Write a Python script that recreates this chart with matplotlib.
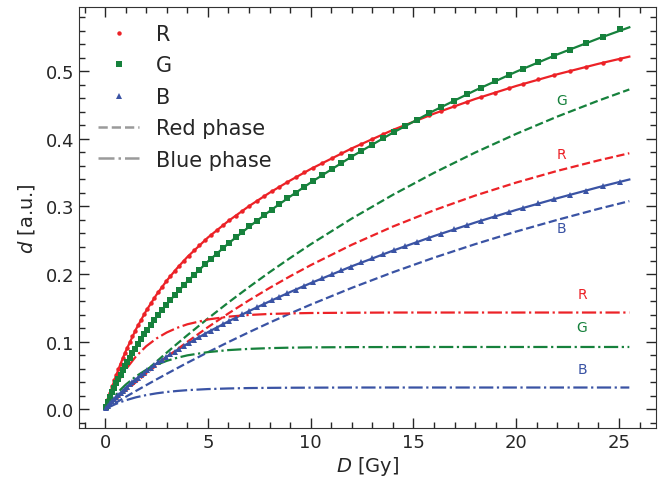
import numpy as np
import matplotlib
matplotlib.use("Agg")
import matplotlib.pyplot as plt
from matplotlib.ticker import MultipleLocator
from matplotlib.lines import Line2D

# measured points (dose in Gy, signal in a.u.)
dose = [0.05, 0.15, 0.25, 0.35, 0.45, 0.55, 0.65, 0.75, 0.86, 0.97, 1.08, 1.2, 1.33, 1.46, 1.6,
        1.75, 1.9, 2.06, 2.23, 2.4, 2.58, 2.77, 2.97, 3.17, 3.38, 3.6, 3.83, 4.07, 4.32, 4.58,
        4.85, 5.13, 5.42, 5.72, 6.03, 6.35, 6.68, 7.02, 7.37, 7.73, 8.1, 8.48, 8.87, 9.27, 9.69,
        10.12, 10.56, 11.02, 11.49, 11.97, 12.47, 12.98, 13.5, 14.04, 14.6, 15.17, 15.76, 16.36,
        16.98, 17.62, 18.28, 18.95, 19.64, 20.35, 21.08, 21.83, 22.6, 23.39, 24.2, 25.03]
r_meas = [0.0051, 0.0150, 0.0245, 0.0337, 0.0425, 0.0510, 0.0592, 0.0670, 0.0754, 0.0834, 0.0911,
          0.0992, 0.1076, 0.1156, 0.1239, 0.1324, 0.1405, 0.1487, 0.1570, 0.1650, 0.1730, 0.1810,
          0.1891, 0.1968, 0.2045, 0.2121, 0.2198, 0.2274, 0.2350, 0.2425, 0.2500, 0.2574, 0.2648,
          0.2721, 0.2794, 0.2866, 0.2938, 0.3009, 0.3080, 0.3151, 0.3222, 0.3292, 0.3362, 0.3432,
          0.3503, 0.3573, 0.3643, 0.3715, 0.3786, 0.3856, 0.3927, 0.3998, 0.4067, 0.4138, 0.4209,
          0.4278, 0.4347, 0.4416, 0.4484, 0.4552, 0.4619, 0.4685, 0.4751, 0.4816, 0.4880, 0.4944,
          0.5006, 0.5067, 0.5127, 0.5186]
g_meas = [0.0038, 0.0111, 0.0182, 0.0251, 0.0317, 0.0382, 0.0445, 0.0507, 0.0572, 0.0635, 0.0697,
          0.0762, 0.0830, 0.0897, 0.0965, 0.1037, 0.1106, 0.1177, 0.1250, 0.1320, 0.1392, 0.1466,
          0.1540, 0.1613, 0.1686, 0.1760, 0.1835, 0.1911, 0.1988, 0.2066, 0.2143, 0.2222, 0.2301,
          0.2381, 0.2461, 0.2541, 0.2623, 0.2705, 0.2786, 0.2868, 0.2952, 0.3036, 0.3120, 0.3204,
          0.3290, 0.3378, 0.3464, 0.3554, 0.3644, 0.3734, 0.3824, 0.3916, 0.4007, 0.4099, 0.4193,
          0.4286, 0.4380, 0.4474, 0.4568, 0.4663, 0.4758, 0.4852, 0.4947, 0.5041, 0.5136, 0.5230,
          0.5323, 0.5417, 0.5510, 0.5620]
b_meas = [0.0018, 0.0052, 0.0085, 0.0118, 0.0150, 0.0181, 0.0211, 0.0240, 0.0272, 0.0303, 0.0334,
          0.0366, 0.0400, 0.0433, 0.0468, 0.0505, 0.0540, 0.0577, 0.0615, 0.0653, 0.0691, 0.0731,
          0.0772, 0.0811, 0.0852, 0.0894, 0.0936, 0.0979, 0.1024, 0.1068, 0.1114, 0.1161, 0.1208,
          0.1256, 0.1305, 0.1354, 0.1403, 0.1454, 0.1505, 0.1557, 0.1609, 0.1662, 0.1715, 0.1769,
          0.1824, 0.1880, 0.1937, 0.1995, 0.2054, 0.2111, 0.2171, 0.2231, 0.2290, 0.2351, 0.2412,
          0.2474, 0.2537, 0.2599, 0.2662, 0.2725, 0.2789, 0.2852, 0.2916, 0.2981, 0.3044, 0.3108,
          0.3173, 0.3236, 0.3300, 0.3364]

# fitted curves: total, red phase, blue phase
dose_fit = [0, 0.25, 0.5, 0.75, 1, 1.5, 2, 2.5, 3, 3.5, 4, 5, 6, 7, 8, 9, 10, 12, 14, 16, 18,
            20, 22, 24, 25.5]
r_total = [0, 0.0245, 0.0468, 0.0670, 0.0855, 0.1181, 0.1457, 0.1694, 0.1903, 0.2086, 0.2252,
           0.2540, 0.2786, 0.3005, 0.3203, 0.3384, 0.3554, 0.3860, 0.4133, 0.4374, 0.4591,
           0.4784, 0.4957, 0.5112, 0.5218]
r_red = [0, 0.0069, 0.0137, 0.0204, 0.0270, 0.0400, 0.0526, 0.0648, 0.0768, 0.0883, 0.0996,
         0.1213, 0.1417, 0.1611, 0.1794, 0.1967, 0.2131, 0.2433, 0.2703, 0.2944, 0.3161,
         0.3354, 0.3527, 0.3682, 0.3788]
r_blue = [0, 0.0176, 0.0331, 0.0466, 0.0585, 0.0781, 0.0931, 0.1046, 0.1135, 0.1203, 0.1256,
          0.1327, 0.1369, 0.1394, 0.1409, 0.1417, 0.1423, 0.1427, 0.1430, 0.1430, 0.1430,
          0.1430, 0.1430, 0.1430, 0.1430]
g_total = [0, 0.0182, 0.0350, 0.0507, 0.0652, 0.0916, 0.1151, 0.1360, 0.1552, 0.1727, 0.1890,
           0.2185, 0.2453, 0.2699, 0.2930, 0.3147, 0.3354, 0.3739, 0.4092, 0.4418, 0.4718,
           0.4995, 0.5251, 0.5487, 0.5652]
g_red = [0, 0.0074, 0.0147, 0.0219, 0.0290, 0.0431, 0.0569, 0.0704, 0.0837, 0.0967, 0.1094,
         0.1341, 0.1579, 0.1807, 0.2027, 0.2237, 0.2440, 0.2821, 0.3173, 0.3498, 0.3798,
         0.4075, 0.4331, 0.4567, 0.4732]
g_blue = [0, 0.0108, 0.0203, 0.0288, 0.0362, 0.0485, 0.0582, 0.0656, 0.0715, 0.0760, 0.0796,
          0.0844, 0.0874, 0.0892, 0.0903, 0.0910, 0.0914, 0.0918, 0.0919, 0.0920, 0.0920,
          0.0920, 0.0920, 0.0920, 0.0920]
b_total = [0, 0.0085, 0.0165, 0.0240, 0.0312, 0.0444, 0.0563, 0.0674, 0.0777, 0.0874, 0.0967,
           0.1139, 0.1299, 0.1451, 0.1595, 0.1733, 0.1865, 0.2115, 0.2346, 0.2562, 0.2762,
           0.2949, 0.3122, 0.3285, 0.3399]
b_red = [0, 0.0046, 0.0091, 0.0136, 0.0181, 0.0269, 0.0355, 0.0440, 0.0523, 0.0605, 0.0686,
         0.0842, 0.0993, 0.1139, 0.1280, 0.1416, 0.1547, 0.1795, 0.2026, 0.2242, 0.2442,
         0.2629, 0.2802, 0.2965, 0.3079]
b_blue = [0, 0.0039, 0.0074, 0.0104, 0.0131, 0.0175, 0.0208, 0.0234, 0.0254, 0.0269, 0.0281,
          0.0297, 0.0306, 0.0312, 0.0315, 0.0317, 0.0318, 0.0320, 0.0320, 0.0320, 0.0320,
          0.0320, 0.0320, 0.0320, 0.0320]

red = "#ec2227"
green = "#16813c"
blue = "#3a53a4"
txt = "#262626"

plt.rcParams["font.family"] = ["DejaVu Sans"]
plt.rcParams["text.color"] = txt
plt.rcParams["axes.labelcolor"] = txt
plt.rcParams["xtick.color"] = txt
plt.rcParams["ytick.color"] = txt

fig = plt.figure(figsize=(6.62, 4.81), dpi=100)
ax = fig.add_axes([0.119, 0.108, 0.872, 0.875])

lw = 1.6
for y, c in [(r_total, red), (g_total, green), (b_total, blue)]:
    ax.plot(dose_fit, y, "-", color=c, lw=lw)
for y, c in [(r_red, red), (g_red, green), (b_red, blue)]:
    ax.plot(dose_fit, y, "--", color=c, lw=lw)
for y, c in [(r_blue, red), (g_blue, green), (b_blue, blue)]:
    ax.plot(dose_fit, y, "-.", color=c, lw=lw)

ax.plot(dose, r_meas, "o", color=red, ms=3.2, mew=0)
ax.plot(dose, g_meas, "s", color=green, ms=4.2, mew=0)
ax.plot(dose, b_meas, "^", color=blue, ms=4.5, mew=0)

# curve labels
ax.text(22.2, 0.457, "G", color=green, fontsize=10, ha="center", va="center")
ax.text(22.2, 0.377, "R", color=red, fontsize=10, ha="center", va="center")
ax.text(22.2, 0.268, "B", color=blue, fontsize=10, ha="center", va="center")
ax.text(23.2, 0.170, "R", color=red, fontsize=10, ha="center", va="center")
ax.text(23.2, 0.121, "G", color=green, fontsize=10, ha="center", va="center")
ax.text(23.2, 0.059, "B", color=blue, fontsize=10, ha="center", va="center")

ax.set_xlim(-1.28, 26.8)
ax.set_ylim(-0.028, 0.595)
ax.xaxis.set_major_locator(MultipleLocator(5))
ax.xaxis.set_minor_locator(MultipleLocator(1))
ax.yaxis.set_major_locator(MultipleLocator(0.1))
ax.yaxis.set_minor_locator(MultipleLocator(0.02))
ax.tick_params(which="both", direction="in", top=True, right=True, labelsize=13)
ax.tick_params(which="major", length=7, width=1)
ax.tick_params(which="minor", length=4, width=1)
for s in ax.spines.values():
    s.set_color("#333333")

ax.set_xlabel(r"$D$ [Gy]", fontsize=14, labelpad=2)
ax.set_ylabel(r"$d$ [a.u.]", fontsize=14, labelpad=6)

gray = "#9a9a9a"
handles = [
    Line2D([], [], ls="none", marker="o", color=red, ms=3.2, mew=0),
    Line2D([], [], ls="none", marker="s", color=green, ms=4.2, mew=0),
    Line2D([], [], ls="none", marker="^", color=blue, ms=4.5, mew=0),
    Line2D([], [], ls="--", color=gray, lw=1.8),
    Line2D([], [], ls="-.", color=gray, lw=1.8),
]
ax.legend(handles, ["R", "G", "B", "Red phase", "Blue phase"], loc="upper left",
          bbox_to_anchor=(0.0185, 0.98), borderaxespad=0, frameon=False, fontsize=15,
          labelspacing=0.55, handlelength=2.0, numpoints=1)

fig.savefig("out.png", dpi=100)
